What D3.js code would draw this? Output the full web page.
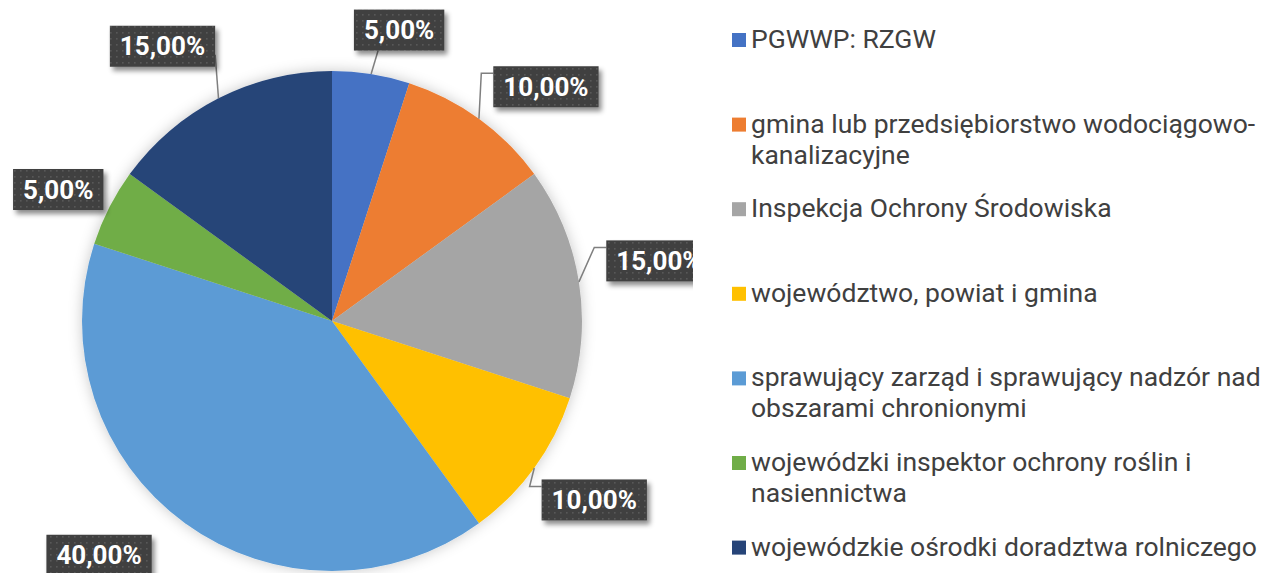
<!DOCTYPE html>
<html>
<head>
<meta charset="utf-8">
<script src="https://cdn.jsdelivr.net/npm/d3@7"></script>
<style>
  html, body { margin: 0; padding: 0; background: #ffffff; }
  svg { display: block; }
</style>
</head>
<body>
<svg id="chart" width="1271" height="573"></svg>
<script>
// Categories (line breaks mark where the legend text wraps)
const categories = [
  "PGWWP: RZGW",
  "gmina lub przedsiębiorstwo wodociągowo-\nkanalizacyjne",
  "Inspekcja Ochrony Środowiska",
  "województwo, powiat i gmina",
  "sprawujący zarząd i sprawujący nadzór nad\nobszarami chronionymi",
  "wojewódzki inspektor ochrony roślin i\nnasiennictwa",
  "wojewódzkie ośrodki doradztwa rolniczego"
];

// Share of each category, in percent
const shares = [5, 10, 15, 10, 40, 5, 15];

const colors = ["#4472C4", "#ED7D31", "#A5A5A5", "#FFC000", "#5B9BD5", "#70AD47", "#264478"];

// Layout
const W = 1271, H = 573;
const cx = 332, cy = 321, R = 250;
const plotWidth = 693;

// Label box offsets from the slice's mid-arc point, and where its leader leaves the box
const labelNudge = [[28, -44], [67, -32], [80, -21], [60, 32], [-86, 32], [-51, -18], [-56, -52]];
const leaderSide = ["bottom", "left", "left", "left", null, null, "right"];

const fmtPct = v => d3.format(".2f")(v).replace(".", ",") + "%";

const svg = d3.select("#chart");
const defs = svg.append("defs");

// Soft halo around the pie
const halo = defs.append("filter").attr("id", "halo")
  .attr("x", "-20%").attr("y", "-20%").attr("width", "140%").attr("height", "140%");
halo.append("feDropShadow").attr("dx", 0).attr("dy", 0)
  .attr("stdDeviation", 7).attr("flood-color", "#000").attr("flood-opacity", 0.22);

// Drop shadow for the value labels
const boxShadow = defs.append("filter").attr("id", "boxShadow")
  .attr("x", "-20%").attr("y", "-30%").attr("width", "150%").attr("height", "180%");
boxShadow.append("feDropShadow").attr("dx", 3).attr("dy", 4)
  .attr("stdDeviation", 2.5).attr("flood-color", "#000").attr("flood-opacity", 0.45);

// Dotted dark fill for the value labels
const pat = defs.append("pattern").attr("id", "dots")
  .attr("patternUnits", "userSpaceOnUse").attr("width", 6).attr("height", 6);
pat.append("rect").attr("width", 6).attr("height", 6).attr("fill", "#404040");
pat.append("rect").attr("x", 2).attr("y", 2).attr("width", 1.6).attr("height", 1.6).attr("fill", "#585858");

defs.append("clipPath").attr("id", "plotClip")
  .append("rect").attr("x", 0).attr("y", 0).attr("width", plotWidth).attr("height", H);

const plot = svg.append("g").attr("clip-path", "url(#plotClip)");

const pie = d3.pie().sort(null).value(d => d);
const arcs = pie(shares);
const arc = d3.arc().innerRadius(0).outerRadius(R);

const pieG = plot.append("g")
  .attr("transform", `translate(${cx},${cy})`)
  .attr("filter", "url(#halo)");

pieG.selectAll("path")
  .data(arcs)
  .join("path")
  .attr("d", arc)
  .attr("fill", (d, i) => colors[i]);

// Value labels with leader lines
const labelFont = "Roboto, 'Noto Sans', sans-serif";
const leaderG = plot.append("g");
const labelG = plot.append("g");

arcs.forEach((d, i) => {
  const mid = (d.startAngle + d.endAngle) / 2;
  const ax = cx + R * Math.sin(mid);
  const ay = cy - R * Math.cos(mid);
  const lx = ax + labelNudge[i][0];
  const ly = ay + labelNudge[i][1];

  const g = labelG.append("g");
  const rect = g.append("rect").attr("fill", "url(#dots)").attr("filter", "url(#boxShadow)");
  const t = g.append("text")
    .attr("x", lx).attr("y", ly)
    .attr("text-anchor", "middle")
    .attr("dominant-baseline", "central")
    .attr("font-family", labelFont)
    .attr("font-weight", 700)
    .attr("font-size", 26)
    .attr("fill", "#ffffff")
    .text(fmtPct(d.data));
  const tw = t.node().getComputedTextLength();
  const bw = tw + 20, bh = 41;
  const bx = lx - bw / 2, by = ly - bh / 2;
  rect.attr("x", bx).attr("y", by).attr("width", bw).attr("height", bh);

  let pts = null;
  if (leaderSide[i] === "bottom") {
    pts = [[ax + 7, by + bh], [ax, ay]];
  } else if (leaderSide[i] === "left") {
    pts = [[bx, by + 7], [bx - 12, by + 7], [ax, ay]];
  } else if (leaderSide[i] === "right") {
    pts = [[bx + bw, by + bh - 12], [ax, ay]];
  }
  if (pts) {
    leaderG.append("path")
      .attr("d", d3.line()(pts))
      .attr("fill", "none")
      .attr("stroke", "#7f7f7f")
      .attr("stroke-width", 1.5);
  }
});

// Legend
const legendX = 732, textX = 751, firstBaseline = 48, entryStep = 84.6, lineStep = 31;
const legend = svg.append("g");
categories.forEach((c, i) => {
  const base = firstBaseline + i * entryStep;
  legend.append("rect")
    .attr("x", legendX).attr("y", base - 15)
    .attr("width", 14).attr("height", 14)
    .attr("fill", colors[i]);
  const t = legend.append("text")
    .attr("x", textX).attr("y", base)
    .attr("font-family", labelFont)
    .attr("font-size", 26.5)
    .attr("fill", "#404040");
  c.split("\n").forEach((line, k) => {
    t.append("tspan").attr("x", textX).attr("y", base + k * lineStep).text(line);
  });
});
</script>
</body>
</html>
